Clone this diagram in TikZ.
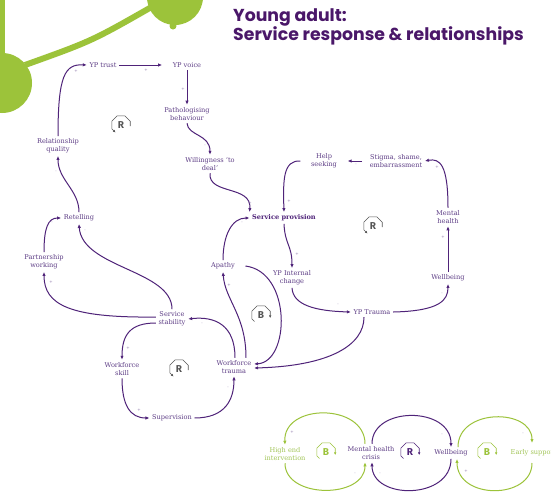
\documentclass[tikz,border=0pt]{standalone}
\usepackage{fontspec}
\usetikzlibrary{arrows.meta}

\newfontfamily\labelfont{DejaVu Serif}
\newfontfamily\titlefont{Poppins}
\newfontfamily\loopfont{Fira Sans}

\definecolor{titlepurple}{HTML}{4A1769}
\definecolor{linkpurple}{HTML}{4F2379}
\definecolor{labelpurple}{HTML}{5E3E86}
\definecolor{brandgreen}{HTML}{9CC33A}
\definecolor{labelgreen}{HTML}{A2C558}
\definecolor{loopgray}{HTML}{555555}

\newcommand\factorfont{\labelfont\fontsize{6.6}{8}\selectfont}

\begin{document}
\begin{tikzpicture}[
    x=1pt, y=-1pt,
    factor/.style={font=\factorfont, text=labelpurple, align=center, inner sep=2.5pt},
    keyfactor/.style={factor, font=\factorfont\bfseries, text=linkpurple},
    greenfactor/.style={factor, text=labelgreen},
    link/.style={draw=linkpurple, line width=1pt, ->},
    greenlink/.style={draw=brandgreen, line width=1pt, ->},
    sign/.style={font=\labelfont\fontsize{4}{4}\selectfont, text=labelpurple!70, inner sep=0pt},
    loopline/.style={line width=0.6pt, -{Latex[length=2.6pt,width=2.6pt]}},
    loopletter/.style={font=\loopfont\bfseries\fontsize{10}{10}\selectfont, inner sep=0pt},
    pics/loopcw/.style 2 args={code={
      \draw[loopline, draw=#2] (-6.5,6.5) -- (-9.2,3.8) -- (-9.2,-3.8) -- (-3.8,-9.2)
        -- (3.8,-9.2) -- (9.2,-3.8) -- (9.2,3);
      \node[loopletter, text=#2] (-sign) {#1};
    }},
    pics/loopccw/.style 2 args={code={
      \draw[loopline, draw=#2] (9.2,1) -- (9.2,-3.8) -- (3.8,-9.2) -- (-3.8,-9.2)
        -- (-9.2,-3.8) -- (-9.2,3.8) -- (-5.5,7.5);
      \node[loopletter, text=#2] (-sign) {#1};
    }},
    >={Latex[length=4pt,width=3.4pt]}
  ]

  \fill[white] (0,0) rectangle (551,493);
  \useasboundingbox (0,0) rectangle (551,493);

  %-----------------------------
  % Green corner graphic
  %-----------------------------
  \fill[brandgreen] (-1,-1) rectangle (5,60);
  \fill[brandgreen] (2,83) circle (30);
  \fill[brandgreen] (175,-3) circle (28);
  \fill[brandgreen] (173,26) circle (3.5);
  \draw[brandgreen, line width=6pt] (25,65) .. controls (92,41) .. (155,5);

  %-----------------------------
  % Title
  %-----------------------------
  \node[anchor=north west, align=left, inner sep=0pt, text=titlepurple,
        font=\titlefont\bfseries\fontsize{17.3}{19}\selectfont]
        (title) at (233,8) {Young adult:\\Service response \& relationships};

  %-----------------------------
  % Factors
  %-----------------------------
  \node[factor] (trust)     at (103,65)  {YP trust};
  \node[factor] (voice)     at (187,65)  {YP voice};
  \node[factor] (patho)     at (187,114) {Pathologising\\behaviour};
  \node[factor] (willing)   at (210,164) {Willingness ‘to\\deal’};
  \node[factor] (relq)      at (58,146)  {Relationship\\quality};
  \node[factor] (retell)    at (79,218)  {Retelling};
  \node[factor] (partner)   at (44,262)  {Partnership\\working};
  \node[factor] (stab)      at (172,319) {Service\\stability};
  \node[factor] (skill)     at (122,369) {Workforce\\skill};
  \node[factor] (superv)    at (172,418) {Supervision};
  \node[factor] (wtrauma)   at (234,367) {Workforce\\trauma};
  \node[factor] (apathy)    at (223,266) {Apathy};
  \node[keyfactor] (provision) at (284,218) {Service provision};
  \node[factor] (help)      at (324,161) {Help\\seeking};
  \node[factor] (stigma)    at (396,161) {Stigma, shame,\\embarrassment};
  \node[factor] (mhealth)   at (448,217) {Mental\\health};
  \node[factor] (wellbeing) at (448,278) {Wellbeing};
  \node[factor] (internal)  at (292,278) {YP Internal\\change};
  \node[factor] (yptrauma)  at (372,312) {YP Trauma};

  %-----------------------------
  % Links
  %-----------------------------
  \draw[link] (relq.north) .. controls (58,75) and (65,64) .. (trust.west);
  \draw[link, shorten >=8pt] (trust.east) -- (voice.west);
  \draw[link] (voice.south) -- (patho.north);
  \draw[link] (patho.south) .. controls (188,136) and (210,134) .. (willing.north);
  \draw[link] (willing.south) .. controls (208,195) and (252,185) .. (provision.north west);
  \draw[link] ([xshift=-8pt]help.west) .. controls (283,160) and (283,180) .. (provision.north);
  \draw[link, shorten <=5pt, shorten >=8pt] (stigma.west) -- (help.east);
  \draw[link] (mhealth.north) .. controls (448,165) and (440,158) .. (stigma.east);
  \draw[link] (wellbeing.north) -- (mhealth.south);
  \draw[link] (yptrauma.east) .. controls (440,311) and (448,300) .. (wellbeing.south);
  \draw[link] (internal.south) .. controls (293,305) and (315,311) .. (yptrauma.west);
  \draw[link] (provision.south) .. controls (285,245) and (292,245) .. (internal.north);
  \draw[link] ([xshift=-8pt]yptrauma.south) .. controls (364,345) and (330,366)
    .. ([yshift=-1pt]wtrauma.east);
  \draw[link] ([xshift=12pt]wtrauma.north) .. controls (246,315) and (225,300) .. (apathy.south);
  \draw[link] (apathy.north) .. controls (223,235) and (232,218) .. (provision.west);
  \draw[link] ([xshift=8pt]apathy.east) .. controls (292,272) and (290,362)
    .. ([yshift=3pt]wtrauma.east);
  \draw[link] ([xshift=1pt]wtrauma.north) .. controls (235,325) and (215,316) .. (stab.east);
  \draw[link] ([yshift=-4pt]stab.west) .. controls (130,323) and (122,335) .. (skill.north);
  \draw[link] (skill.south) .. controls (122,405) and (130,418) .. (superv.west);
  \draw[link] (superv.east) .. controls (225,418) and (234,400) .. (wtrauma.south);
  \draw[link] (stab.north) .. controls (172,270) and (82,268) .. (retell.south);
  \draw[link] ([yshift=2pt]stab.west) .. controls (70,318) and (44,305) .. (partner.south);
  \draw[link] (partner.north) .. controls (44,228) and (48,218) .. (retell.west);
  \draw[link] (retell.north) .. controls (79,190) and (58,180) .. (relq.south);

  % polarity of each link
  \foreach \x/\y/\s [count=\n] in {76/71/+, 146/70/+, 183/89/+, 205/146/-, 250/203/+,
      289/201/+, 356/165/-, 437/167/+, 443/237/+, 442/294/-, 338/305/-, 297/254/+,
      229/285/+, 242/223/-, 202/324/-, 128/348/+, 139/410/+, 228/388/-, 85/231/-,
      51/282/+, 52/223/-, 56/172/-, 272/358/-} {
    \node[sign] (sign-\n) at (\x,\y) {\s};
  }

  % loop markers
  \pic (loopA) at (121,125) {loopccw={R}{loopgray}};
  \pic (loopB) at (373,226) {loopccw={R}{loopgray}};
  \pic (loopC) at (261,315) {loopcw={B}{loopgray}};
  \pic (loopD) at (179,369) {loopccw={R}{loopgray}};

  %-----------------------------
  % Crisis / support loops
  %-----------------------------
  \node[greenfactor] (highend) at (285,454) {High end\\intervention};
  \node[factor] (crisis)       at (371,453) {Mental health\\crisis};
  \node[factor] (wellbeing2)   at (451,453) {Wellbeing};
  \node[greenfactor, anchor=west] (early) at (508,453) {Early support};

  \draw[greenlink] ([xshift=-6pt]crisis.north) .. controls (365,403) and (283,403)
    .. (highend.north);
  \draw[greenlink] (highend.south) .. controls (285,499) and (365,499)
    .. ([xshift=-6pt]crisis.south);
  \draw[link] ([xshift=1pt]crisis.north) .. controls (372,406) and (451,406)
    .. (wellbeing2.north);
  \draw[link] (wellbeing2.south) .. controls (451,500) and (372,500)
    .. ([xshift=1pt]crisis.south);
  \draw[greenlink] ([xshift=7pt]wellbeing2.north) .. controls (458,408) and (532,408)
    .. (532,443);
  \draw[greenlink] (532,463) .. controls (532,500) and (457,500)
    .. ([xshift=6pt]wellbeing2.south);

  \foreach \x/\y/\s [count=\n] in {292/432/+, 355/474/-, 380/474/-, 442/435/-,
      523/434/-, 466/471/+} {
    \node[sign] (keysign-\n) at (\x,\y) {\s};
  }

  \pic (loopE) at (326,452) {loopcw={B}{brandgreen}};
  \pic (loopF) at (410,452) {loopcw={R}{linkpurple}};
  \pic (loopG) at (487,452) {loopcw={B}{brandgreen}};

\end{tikzpicture}
\end{document}
